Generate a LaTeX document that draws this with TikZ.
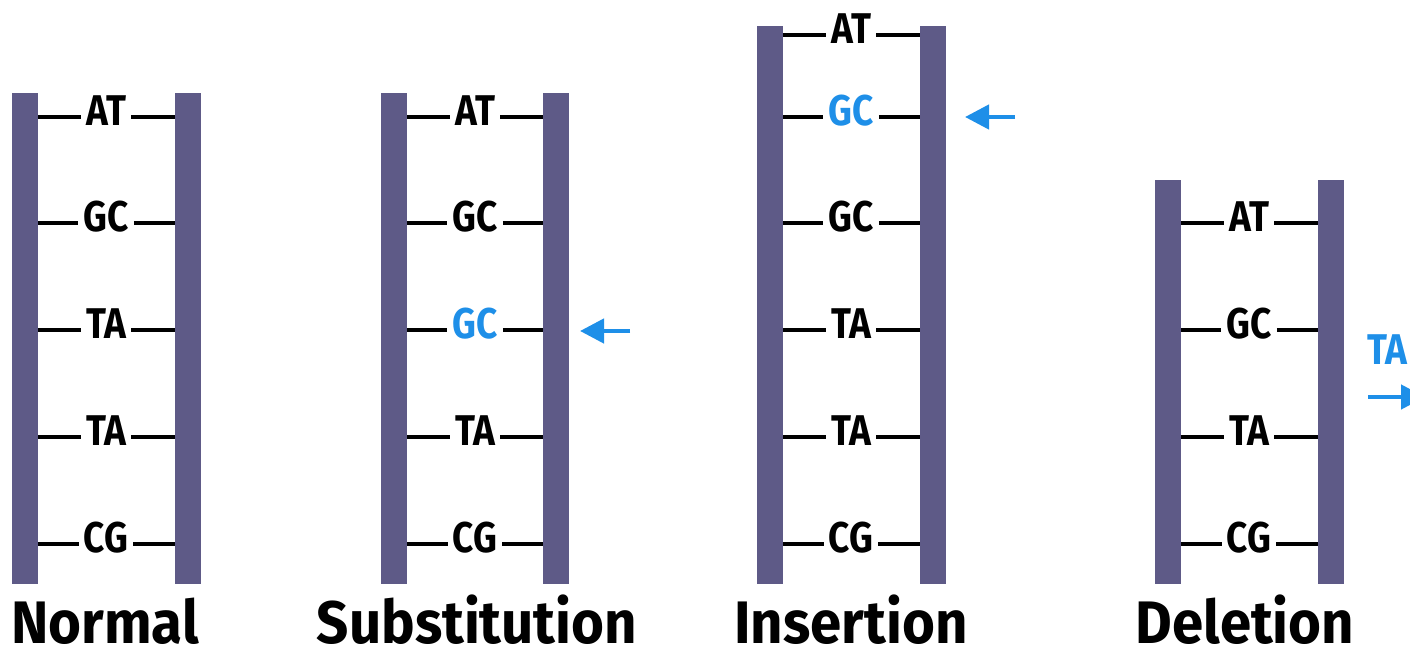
\documentclass[tikz,border=0pt]{standalone}
\usepackage{fontspec}
\setmainfont{Fira Sans}[FakeStretch=0.86]
\newfontfamily\titlefont{Fira Sans}[FakeStretch=0.94]
\usetikzlibrary{arrows.meta}
\definecolor{strand}{HTML}{5E5A87}
\definecolor{mut}{HTML}{1E8FE8}
\tikzset{
  bar/.style={fill=strand, draw=none, inner sep=0pt, minimum width=26pt, anchor=north west},
  bp/.style={font=\fontsize{43}{43}\selectfont\bfseries, inner sep=5pt, anchor=base, text=black},
  rung/.style={line width=3.2pt, black},
  arr/.style={line width=4.5pt, mut, -{Triangle[length=24pt,width=24pt]}},
  title/.style={font=\titlefont\fontsize{60}{60}\selectfont\bfseries, anchor=base, inner sep=0pt}
}
% \pair{name}{x}{y}{text}{colour}{left strand}{right strand}
\newcommand\pair[7]{%
  \coordinate (#1) at (#2,#3);
  \node[bp, text=#5] (#1t) at ([yshift=-8pt]#1) {#4};
  \draw[rung] (#1 -| #6.east) -- (#1 -| #1t.west);
  \draw[rung] (#1 -| #1t.east) -- (#1 -| #7.west);
}
\begin{document}
\begin{tikzpicture}[x=1pt,y=-1pt]
\useasboundingbox (0,0) rectangle (1410,656);
\clip (0,0) rectangle (1410,656);

% Normal
\node[bar, minimum height=491pt] (nL) at (12,93) {};
\node[bar, minimum height=491pt] (nR) at (175,93) {};
\pair{n1}{106}{117}{AT}{black}{nL}{nR}
\pair{n2}{106}{223}{GC}{black}{nL}{nR}
\pair{n3}{106}{330}{TA}{black}{nL}{nR}
\pair{n4}{106}{437}{TA}{black}{nL}{nR}
\pair{n5}{106}{544}{CG}{black}{nL}{nR}
\node[title] (nT) at (105,643) {Normal};

% Substitution
\node[bar, minimum height=491pt] (sL) at (381,93) {};
\node[bar, minimum height=491pt] (sR) at (543,93) {};
\pair{s1}{475}{117}{AT}{black}{sL}{sR}
\pair{s2}{475}{223}{GC}{black}{sL}{sR}
\pair{s3}{475}{330}{GC}{mut}{sL}{sR}
\pair{s4}{475}{437}{TA}{black}{sL}{sR}
\pair{s5}{475}{544}{CG}{black}{sL}{sR}
\coordinate (sa1) at (630,331);
\coordinate (sa2) at (580,331);
\draw[arr] (sa1) -- (sa2);
\node[title] (sT) at (477,643) {Substitution};

% Insertion
\node[bar, minimum height=558pt] (iL) at (757,26) {};
\node[bar, minimum height=558pt] (iR) at (920,26) {};
\pair{i0}{851}{35}{AT}{black}{iL}{iR}
\pair{i1}{851}{117}{GC}{mut}{iL}{iR}
\pair{i2}{851}{223}{GC}{black}{iL}{iR}
\pair{i3}{851}{330}{TA}{black}{iL}{iR}
\pair{i4}{851}{437}{TA}{black}{iL}{iR}
\pair{i5}{851}{544}{CG}{black}{iL}{iR}
\coordinate (ia1) at (1015,117);
\coordinate (ia2) at (965,117);
\draw[arr] (ia1) -- (ia2);
\node[title] (iT) at (851,643) {Insertion};

% Deletion
\node[bar, minimum height=404pt] (dL) at (1155,180) {};
\node[bar, minimum height=404pt] (dR) at (1318,180) {};
\pair{d1}{1249}{223}{AT}{black}{dL}{dR}
\pair{d2}{1249}{330}{GC}{black}{dL}{dR}
\pair{d3}{1249}{437}{TA}{black}{dL}{dR}
\pair{d4}{1249}{544}{CG}{black}{dL}{dR}
\node[bp, text=mut, anchor=base west, inner sep=0pt] (dx) at (1367,364) {TA};
\coordinate (da1) at (1368,397);
\coordinate (da2) at (1425,397);
\draw[arr] (da1) -- (da2);
\node[title] (dT) at (1245,643) {Deletion};
\end{tikzpicture}
\end{document}
